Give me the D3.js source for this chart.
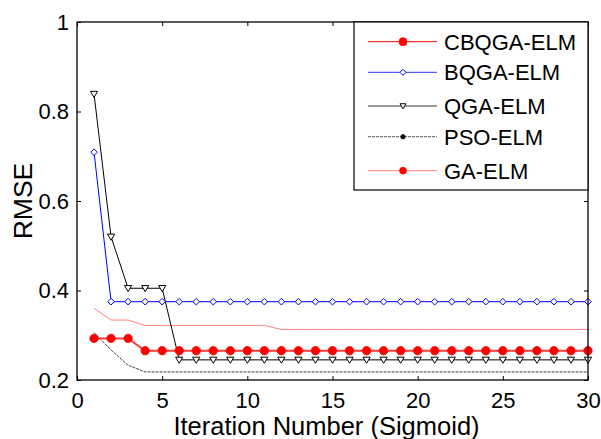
<!DOCTYPE html>
<html>
<head>
<meta charset="utf-8">
<script src="https://cdn.jsdelivr.net/npm/d3@7/dist/d3.min.js"></script>
<style>
  html, body { margin: 0; padding: 0; background: #fff; }
  svg { display: block; font-family: "Liberation Sans", Arial, sans-serif; }
</style>
</head>
<body>
<svg id="chart" width="601" height="439"></svg>
<script>
// RMSE per iteration for each optimiser (Sigmoid activation)
const iterations = [1,2,3,4,5,6,7,8,9,10,11,12,13,14,15,16,17,18,19,20,21,22,23,24,25,26,27,28,29,30];
const cbqgaElm = [0.293,0.293,0.293,0.2655,0.2655,0.2655,0.2655,0.2655,0.2655,0.2655,0.2655,0.2655,0.2655,0.2655,0.2655,0.2655,0.2655,0.2655,0.2655,0.2655,0.2655,0.2655,0.2655,0.2655,0.2655,0.2655,0.2655,0.2655,0.2655,0.2655];
const bqgaElm = [0.709,0.375,0.375,0.375,0.375,0.375,0.375,0.375,0.375,0.375,0.375,0.375,0.375,0.375,0.375,0.375,0.375,0.375,0.375,0.375,0.375,0.375,0.375,0.375,0.375,0.375,0.375,0.375,0.375,0.375];
const qgaElm = [0.839,0.52,0.405,0.405,0.405,0.245,0.245,0.245,0.245,0.245,0.245,0.245,0.245,0.245,0.245,0.245,0.245,0.245,0.245,0.245,0.245,0.245,0.245,0.245,0.245,0.245,0.245,0.245,0.245,0.245];
const psoElm = [0.306,0.267,0.233,0.218,0.218,0.218,0.218,0.218,0.218,0.218,0.218,0.218,0.218,0.218,0.218,0.218,0.218,0.218,0.218,0.218,0.218,0.218,0.218,0.218,0.218,0.218,0.218,0.218,0.218,0.218];
const gaElm = [0.360,0.334,0.334,0.322,0.322,0.322,0.322,0.322,0.322,0.322,0.322,0.313,0.313,0.313,0.313,0.313,0.313,0.313,0.313,0.313,0.313,0.313,0.313,0.313,0.313,0.313,0.313,0.313,0.313,0.313];

const xTicks = [0,5,10,15,20,25,30];
const yTicks = [0.2,0.4,0.6,0.8,1];
const seriesNames = ["CBQGA-ELM","BQGA-ELM","QGA-ELM","PSO-ELM","GA-ELM"];

const styles = {
  "CBQGA-ELM": { stroke: "#ff3b3b", width: 2, dash: null, marker: "dot", mfill: "#ff0000", mstroke: "#ff0000", msize: 4.2, lsize: 4, plotMarkers: true, legendStroke: "#ff0000", legendWidth: 1 },
  "BQGA-ELM":  { stroke: "#0000ff", width: 1, dash: null, marker: "diamond", mfill: "#fff", mstroke: "#0000ff", msize: 3.3, lsize: 3, plotMarkers: true, legendStroke: "#3333ff", legendWidth: 1 },
  "QGA-ELM":   { stroke: "#000000", width: 1, dash: null, marker: "tri", mfill: "#fff", mstroke: "#000", msize: 3.6, lsize: 3, plotMarkers: true, legendStroke: "#333", legendWidth: 1 },
  "PSO-ELM":   { stroke: "#444444", width: 1, dash: "3,1", marker: "dot", mfill: "#000", mstroke: "#000", msize: 2.2, lsize: 2.2, plotMarkers: false, legendStroke: "#555", legendWidth: 1 },
  "GA-ELM":    { stroke: "#ff8080", width: 1, dash: null, marker: "dot", mfill: "#ff0000", mstroke: "#ff0000", msize: 3.4, lsize: 3.4, plotMarkers: false, legendStroke: "#ff8080", legendWidth: 1 }
};
const dataByName = {
  "CBQGA-ELM": cbqgaElm, "BQGA-ELM": bqgaElm, "QGA-ELM": qgaElm, "PSO-ELM": psoElm, "GA-ELM": gaElm
};

const margin = { left: 77, top: 22, right: 13, bottom: 59 };
const W = 601, H = 439;
const pw = W - margin.left - margin.right;
const ph = H - margin.top - margin.bottom;

const svg = d3.select("#chart");
const g = svg.append("g").attr("transform", `translate(${margin.left},${margin.top})`);

const x = d3.scaleLinear().domain([0, 30]).range([0, pw]);
const y = d3.scaleLinear().domain([0.2, 1]).range([ph, 0]);

// axes box with inward ticks
const tickLen = 4;
g.append("g").attr("transform", `translate(0,${ph})`)
  .call(d3.axisBottom(x).tickValues(xTicks).tickSizeInner(-tickLen).tickSizeOuter(0).tickPadding(12).tickFormat(d3.format("d")))
  .call(a => a.select(".domain").remove())
  .call(a => a.selectAll("text").attr("font-size", 22).attr("fill", "#000"));
g.append("g")
  .call(d3.axisTop(x).tickValues(xTicks).tickSizeInner(-tickLen).tickSizeOuter(0).tickFormat(""))
  .call(a => a.select(".domain").remove());
g.append("g")
  .call(d3.axisLeft(y).tickValues(yTicks).tickSizeInner(-tickLen).tickSizeOuter(0).tickPadding(8).tickFormat(d => d3.format("~g")(d)))
  .call(a => a.select(".domain").remove())
  .call(a => a.selectAll("text").attr("font-size", 22).attr("fill", "#000"));
g.append("g").attr("transform", `translate(${pw},0)`)
  .call(d3.axisRight(y).tickValues(yTicks).tickSizeInner(-tickLen).tickSizeOuter(0).tickFormat(""))
  .call(a => a.select(".domain").remove());
g.selectAll(".tick line").attr("stroke", "#000");

svg.append("defs").append("clipPath").attr("id", "plotClip")
  .append("rect").attr("x", -6).attr("y", -6).attr("width", pw + 12).attr("height", ph + 12);

const line = d3.line().x((d, i) => x(iterations[i])).y(d => y(d));

function drawMarker(sel, type, cx, cy, st, s) {
  if (type === "dot") {
    sel.append("circle").attr("cx", cx).attr("cy", cy).attr("r", s)
      .attr("fill", st.mfill).attr("stroke", st.mstroke).attr("stroke-width", 0.8);
  } else if (type === "diamond") {
    sel.append("path").attr("d", `M${cx},${cy - s}L${cx + s},${cy}L${cx},${cy + s}L${cx - s},${cy}Z`)
      .attr("fill", st.mfill).attr("stroke", st.mstroke).attr("stroke-width", 1);
  } else if (type === "tri") {
    sel.append("path").attr("d", `M${cx - s},${cy - s * 0.75}L${cx + s},${cy - s * 0.75}L${cx},${cy + s * 0.95}Z`)
      .attr("fill", st.mfill).attr("stroke", st.mstroke).attr("stroke-width", 1);
  }
}

// series drawn so the first legend entry ends up on top
const plot = g.append("g").attr("clip-path", "url(#plotClip)");
const drawOrder = ["GA-ELM","PSO-ELM","QGA-ELM","BQGA-ELM","CBQGA-ELM"];
drawOrder.forEach(name => {
  const st = styles[name];
  const vals = dataByName[name];
  plot.append("path").datum(vals).attr("d", line)
    .attr("fill", "none").attr("stroke", st.stroke).attr("stroke-width", st.width)
    .attr("stroke-dasharray", st.dash);
  if (st.plotMarkers) {
    const mg = plot.append("g");
    vals.forEach((v, i) => drawMarker(mg, st.marker, x(iterations[i]), y(v), st, st.msize));
  }
});

// box
g.append("rect").attr("x", 0).attr("y", 0).attr("width", pw).attr("height", ph)
  .attr("fill", "none").attr("stroke", "#000").attr("stroke-width", 1.3);

// legend
const lg = svg.append("g").attr("transform", "translate(354,22)");
lg.append("rect").attr("x", 0).attr("y", 0).attr("width", 588 - 354).attr("height", 168)
  .attr("fill", "#fff").attr("stroke", "#000").attr("stroke-width", 1.2);
const rowY = [19.7, 50.3, 84, 114.7, 148.7];
seriesNames.forEach((name, i) => {
  const st = styles[name];
  const ry = rowY[i];
  lg.append("line").attr("x1", 14).attr("x2", 83).attr("y1", ry).attr("y2", ry)
    .attr("stroke", st.legendStroke).attr("stroke-width", st.legendWidth)
    .attr("stroke-dasharray", st.dash);
  drawMarker(lg, st.marker, 49, ry, st, st.lsize);
  lg.append("text").attr("x", 90).attr("y", ry).attr("dy", "0.36em")
    .attr("font-size", 22).attr("fill", "#000").text(name);
});

// axis titles
svg.append("text").attr("x", margin.left + pw / 2 - 6).attr("y", 435)
  .attr("text-anchor", "middle").attr("font-size", 25.5).attr("fill", "#000")
  .text("Iteration Number (Sigmoid)");
svg.append("text").attr("transform", `translate(32,${margin.top + ph / 2}) rotate(-90)`)
  .attr("text-anchor", "middle").attr("font-size", 26.5).attr("fill", "#000")
  .text("RMSE");
</script>
</body>
</html>
